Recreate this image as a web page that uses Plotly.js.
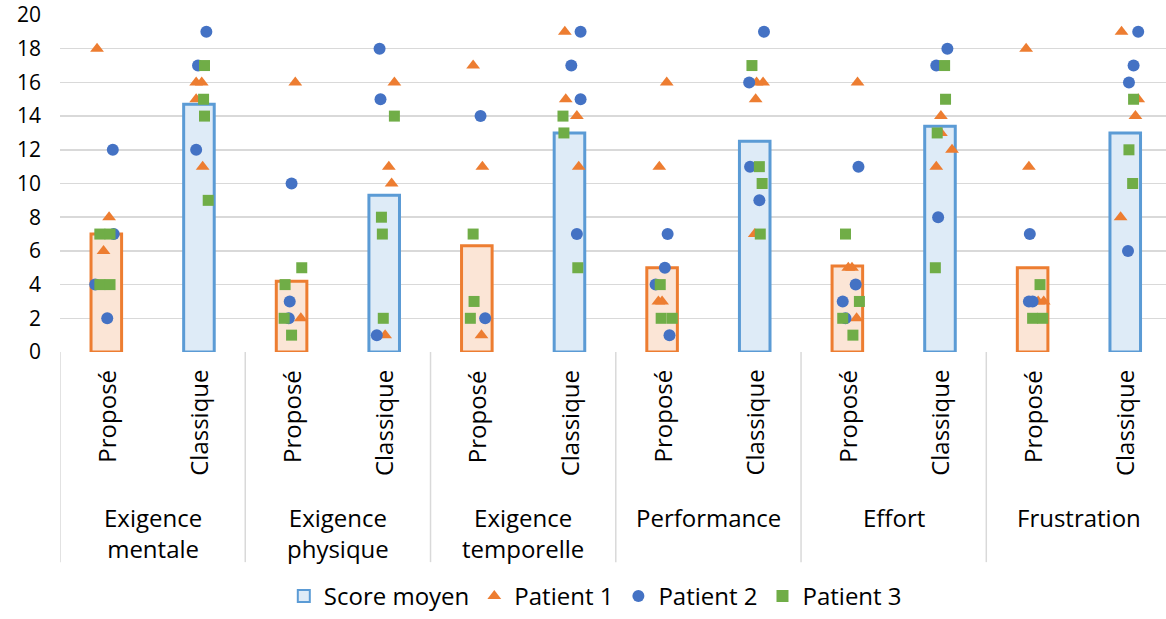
<!DOCTYPE html>
<html>
<head>
<meta charset="utf-8">
<script src="https://cdn.plot.ly/plotly-3.0.1.min.js"></script>
<style>html,body{margin:0;padding:0;background:#fff;}#chart{width:1166px;height:619px;}</style>
</head>
<body>
<div id="chart"></div>
<script>
// ---- Data ----
const groups = ["Exigence<br>mentale", "Exigence<br>physique", "Exigence<br>temporelle", "Performance", "Effort", "Frustration"];
const methods = ["Proposé", "Classique"];
const scoreMoyen = [7.0, 14.7, 4.2, 9.3, 6.3, 13.0, 5.0, 12.5, 5.1, 13.4, 5.0, 13.0];

// Patient points: category index (0..11), scatter x offset within category, value
const p1Cat = [0,0,0, 1,1,1,1, 2,2, 3,3,3,3, 4,4,4, 5,5,5,5, 6,6,6,6, 7,7,7,7, 8,8,8,8, 9,9,9,9, 10,10,10,10, 11,11,11,11];
const p1Dx  = [-0.10,0.03,-0.03, -0.03,0.03,-0.03,0.04, 0.04,0.10, 0.11,0.05,0.08,0.01, -0.04,0.06,0.05, -0.05,-0.04,0.08,0.10, 0.05,-0.03,-0.04,0.00, 0.02,0.09,0.01,0.00, 0.11,0.01,0.05,0.10, 0.01,0.01,0.13,-0.04, -0.07,-0.04,0.06,0.12, -0.04,0.14,0.11,-0.05];
const p1Val = [18,8,6, 16,16,15,11, 16,2, 16,11,10,1, 17,11,1, 19,15,14,11, 16,11,3,3, 16,16,15,7, 16,5,5,2, 14,13,12,11, 18,11,3,3, 19,15,14,8];

const p2Cat = [0,0,0,0, 1,1,1, 2,2,2, 3,3,3, 4,4, 5,5,5,5, 6,6,6,6, 7,7,7,7, 8,8,8,8, 9,9,9, 10,10,10, 11,11,11,11];
const p2Dx  = [0.07,0.08,-0.12,0.01, 0.08,-0.01,-0.03, 0.00,-0.02,-0.03, -0.05,-0.04,-0.08, 0.04,0.09, 0.12,0.02,0.12,0.08, 0.06,0.03,-0.07,0.08, 0.10,-0.06,-0.05,0.05, 0.12,0.09,-0.05,-0.02, 0.08,-0.04,-0.02, -0.03,-0.04,0.00, 0.14,0.09,0.04,0.03];
const p2Val = [12,7,4,2, 19,17,12, 10,3,2, 18,15,1, 14,2, 19,17,15,7, 7,5,4,1, 19,16,11,9, 11,4,3,2, 18,17,8, 7,3,3, 19,17,16,6];

const p3Cat = [0,0,0,0, 1,1,1,1, 2,2,2,2, 3,3,3,3, 4,4,4, 5,5,5, 6,6,6, 7,7,7,7, 8,8,8,8, 9,9,9,9, 10,10,10, 11,11,11];
const p3Dx  = [-0.07,0.04,-0.07,0.04, 0.06,0.05,0.06,0.10, -0.07,0.11,-0.08,0.00, 0.11,-0.03,-0.02,-0.01, -0.04,-0.03,-0.07, -0.07,-0.06,0.09, -0.02,-0.01,0.11, -0.03,0.05,0.08,0.06, -0.02,0.13,-0.05,0.06, 0.05,0.06,-0.03,-0.05, 0.08,0.00,0.11, 0.09,0.04,0.08];
const p3Val = [7,7,4,4, 17,15,14,9, 4,5,2,1, 14,8,7,2, 7,3,2, 14,13,5, 4,2,2, 17,11,10,7, 7,3,2,1, 17,15,13,5, 4,2,2, 15,12,10];

// ---- Build ----
const nCat = groups.length * methods.length;
const catIdx = Array.from({length: nCat}, (_, i) => i);
const catLabels = catIdx.map(i => methods[i % 2]);
const propIdx = catIdx.filter(i => i % 2 === 0);
const clasIdx = catIdx.filter(i => i % 2 === 1);

const FONT = "Open Sans, Noto Sans, sans-serif";
const TXT = "#000000";
const LBL = 24;

const barClassique = {
  type: "bar", name: "Score moyen", legendrank: 1,
  x: clasIdx, y: clasIdx.map(i => scoreMoyen[i]), width: 0.33,
  marker: {color: "#DEEBF7", line: {color: "#5B9BD5", width: 3}}
};
const barPropose = {
  type: "bar", name: "Score moyen", showlegend: false,
  x: propIdx, y: propIdx.map(i => scoreMoyen[i]), width: 0.33,
  marker: {color: "#FBE5D6", line: {color: "#ED7D31", width: 3}}
};
function pts(name, rank, cat, dx, val, symbol, color, size) {
  return {
    type: "scatter", mode: "markers", name: name, legendrank: rank,
    x: cat.map((c, k) => c + dx[k]), y: val,
    marker: {symbol: symbol, color: color, size: size, line: {width: 0}}
  };
}
const traces = [
  barPropose, barClassique,
  pts("Patient 1", 2, p1Cat, p1Dx, p1Val, "triangle-up", "#ED7D31", 12),
  pts("Patient 2", 3, p2Cat, p2Dx, p2Val, "circle", "#4472C4", 12),
  pts("Patient 3", 4, p3Cat, p3Dx, p3Val, "square", "#70AD47", 11)
];

// plot area: x 60..1166, y 15..355
const plotTop = 15, plotBot = 355, H = plotBot - plotTop;
const py = p => (plotBot - p) / H; // pixel -> paper y

const annotations = [];
catIdx.forEach(i => annotations.push({
  xref: "x", yref: "paper", x: i, y: py(371), yanchor: "top", xanchor: "center",
  text: catLabels[i], textangle: -90, showarrow: false,
  font: {family: FONT, size: LBL, color: TXT}
}));
groups.forEach((g, j) => annotations.push({
  xref: "x", yref: "paper", x: 2 * j + 0.5, y: py(503), yanchor: "top", xanchor: "center",
  text: g, showarrow: false, font: {family: FONT, size: LBL, color: TXT}
}));

const shapes = [];
for (let j = 0; j <= groups.length; j++) {
  shapes.push({type: "line", xref: "x", yref: "paper", x0: 2 * j - 0.5, x1: 2 * j - 0.5,
    y0: 0, y1: py(567), line: {color: "#D9D9D9", width: 1.5}});
}

const layout = {
  width: 1166, height: 619,
  margin: {l: 60, r: 0, t: plotTop, b: 619 - plotBot},
  paper_bgcolor: "#ffffff", plot_bgcolor: "#ffffff",
  font: {family: FONT, size: LBL, color: TXT},
  showlegend: true, barmode: "overlay",
  legend: {orientation: "h", x: 0.484, xanchor: "center", y: py(602), yanchor: "middle",
    font: {family: FONT, size: LBL, color: TXT}, itemsizing: "constant", traceorder: "normal"},
  xaxis: {range: [-0.5, 11.44], showgrid: false, zeroline: false, showticklabels: false, ticks: "", showline: false, fixedrange: true},
  yaxis: {range: [0, 20], dtick: 2, tick0: 0, showgrid: true, gridcolor: "#D9D9D9", gridwidth: 1.5,
    zeroline: false, showline: false, ticks: "", ticklabelstandoff: 18,
    tickfont: {family: FONT, size: 21, color: TXT}},
  annotations: annotations, shapes: shapes
};

Plotly.newPlot("chart", traces, layout, {displayModeBar: false, staticPlot: true});
</script>
</body>
</html>
